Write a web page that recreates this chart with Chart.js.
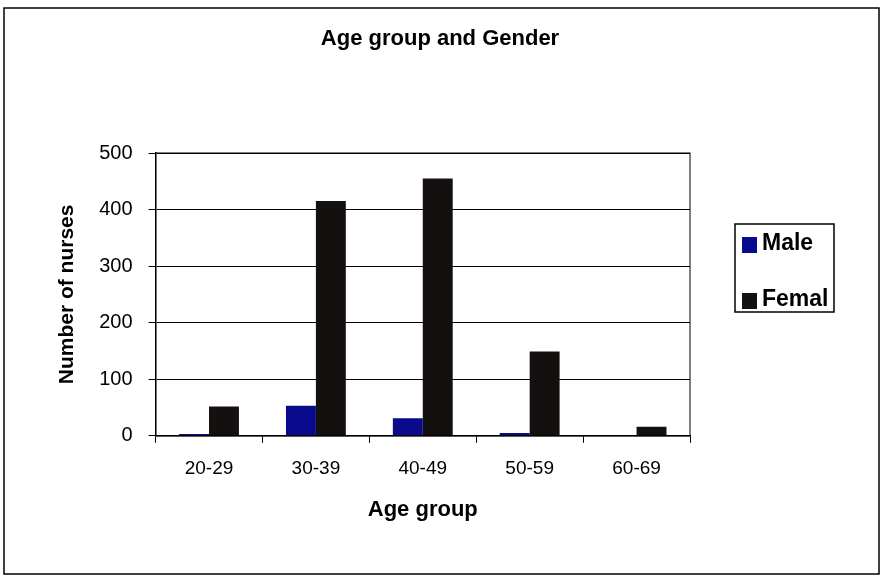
<!DOCTYPE html>
<html>
<head>
<meta charset="utf-8">
<script src="https://cdn.jsdelivr.net/npm/chart.js@4"></script>
<style>
  html, body { margin: 0; padding: 0; background: #fff; }
  #wrap { width: 882px; height: 578px; }
</style>
</head>
<body>
<div id="wrap"><canvas id="gender-chart"></canvas></div>
<script>
const ageGroups = ['20-29', '30-39', '40-49', '50-59', '60-69'];
const maleCounts = [3, 53, 31, 5, 0];
const femaleCounts = [52, 415, 455, 149, 16];
const yTicks = [0, 100, 200, 300, 400, 500];

const maleColor = '#0a0a8c';
const femaleColor = '#151010';

// frame, plot box, title and legend drawn by hand to match the scan
const decorations = {
  id: 'decorations',
  afterDraw(chart) {
    const ctx = chart.ctx;
    const a = chart.chartArea;
    ctx.save();
    ctx.strokeStyle = '#000';
    ctx.lineWidth = 1.5;
    ctx.strokeRect(4, 8, 875, 566);
    ctx.lineWidth = 1;
    ctx.strokeRect(a.left, a.top, a.right - a.left, a.bottom - a.top);

    ctx.fillStyle = '#000';
    ctx.font = 'bold 22px "Liberation Sans", Arial, sans-serif';
    ctx.textAlign = 'center';
    ctx.textBaseline = 'middle';
    ctx.fillText('Age group and Gender', 440, 39);

    ctx.lineWidth = 1.5;
    ctx.strokeRect(735, 224, 99, 88);
    ctx.font = 'bold 23px "Liberation Sans", Arial, sans-serif';
    ctx.textAlign = 'left';
    ctx.textBaseline = 'alphabetic';
    const items = [['Male', maleColor, 250, 237], ['Femal', femaleColor, 306, 293]];
    items.forEach(([name, color, base, boxTop]) => {
      ctx.fillStyle = color;
      ctx.fillRect(742, boxTop, 15, 16);
      ctx.fillStyle = '#000';
      ctx.fillText(name, 762, base);
    });
    ctx.restore();
  }
};

new Chart(document.getElementById('gender-chart'), {
  type: 'bar',
  data: {
    labels: ageGroups,
    datasets: [
      { label: 'Male', data: maleCounts, backgroundColor: maleColor },
      { label: 'Femal', data: femaleCounts, backgroundColor: femaleColor }
    ]
  },
  options: {
    responsive: true,
    maintainAspectRatio: false,
    animation: false,
    layout: { padding: { top: 153, right: 192, left: 51, bottom: 51 } },
    categoryPercentage: 0.56,
    barPercentage: 1,
    plugins: {
      legend: { display: false },
      title: { display: false },
      tooltip: { enabled: false }
    },
    scales: {
      x: {
        grid: { offset: true, drawOnChartArea: false, color: '#000', tickLength: 7 },
        border: { color: '#000', width: 1.5 },
        ticks: { color: '#000', font: { size: 19, family: '"Liberation Sans", Arial' }, padding: 15 },
        title: {
          display: true, text: 'Age group', color: '#000',
          font: { size: 22, weight: 'bold', family: '"Liberation Sans", Arial' }, padding: { top: 1 }
        }
      },
      y: {
        min: 0,
        max: 500,
        afterBuildTicks(axis) { axis.ticks = yTicks.map(v => ({ value: v })); },
        grid: { color: '#000', tickLength: 7 },
        border: { color: '#000', width: 1.5 },
        ticks: { color: '#000', font: { size: 20, family: '"Liberation Sans", Arial' }, padding: 16 },
        title: {
          display: true, text: 'Number of nurses', color: '#000',
          font: { size: 21, weight: 'bold', family: '"Liberation Sans", Arial' }, padding: { bottom: 3 }
        }
      }
    }
  },
  plugins: [decorations]
});
</script>
</body>
</html>
